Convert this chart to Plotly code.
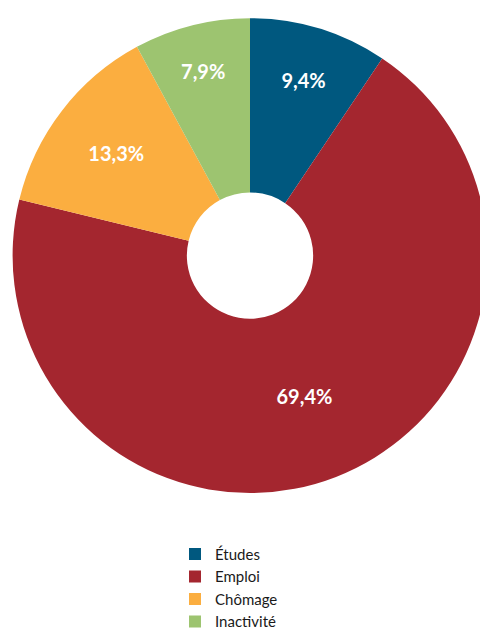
import plotly.graph_objects as go

categories = ["Études", "Emploi", "Chômage", "Inactivité"]
values = [9.4, 69.4, 13.3, 7.9]
colors = ["#00587F", "#A4262F", "#FBAE40", "#9DC470"]
text_labels = ["9,4%", "69,4%", "13,3%", "7,9%"]

fig = go.Figure(go.Pie(
    labels=categories,
    values=values,
    text=text_labels,
    texttemplate="%{text}",
    textposition="inside",
    insidetextorientation="horizontal",
    textfont=dict(family="Lato", size=20, color="white", weight="bold"),
    marker=dict(colors=colors, line=dict(width=0)),
    hole=0.266,
    sort=False,
    direction="clockwise",
    rotation=0,
    domain=dict(x=[0, 484/488], y=[0.2152, 0.9835]),
))

fig.update_layout(
    width=488, height=630,
    margin=dict(l=0, r=0, t=0, b=0),
    paper_bgcolor="white",
    plot_bgcolor="white",
    showlegend=True,
    legend=dict(
        x=167/488, xanchor="left",
        y=1 - 540/630, yanchor="top",
        font=dict(family="Lato", size=15, color="#1a1a1a"),
        itemwidth=30,
        tracegroupgap=0,
    ),
)

fig.write_html("out.html")
